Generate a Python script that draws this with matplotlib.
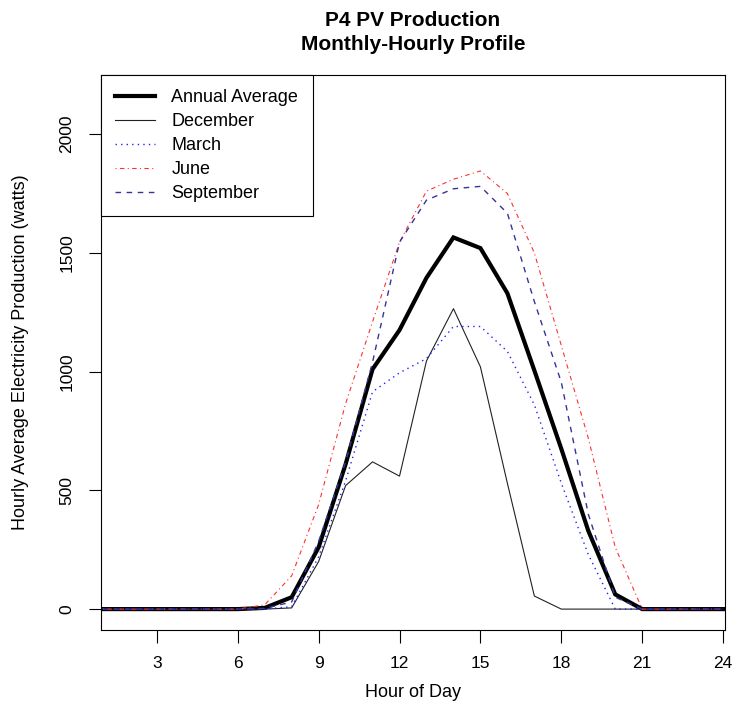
import matplotlib
matplotlib.use("Agg")
import matplotlib.pyplot as plt

plt.rcParams['font.family'] = ['Liberation Sans', 'DejaVu Sans']

hours = list(range(1, 25))
annual = [0, 0, 0, 0, 0, 0, 5, 50, 260, 610, 1010, 1175, 1395, 1565, 1520, 1330, 1005, 675, 330, 62, 0, 0, 0, 0]
december = [0, 0, 0, 0, 0, 0, 0, 5, 200, 520, 620, 560, 1045, 1265, 1020, 530, 55, 0, 0, 0, 0, 0, 0, 0]
march = [0, 0, 0, 0, 0, 0, 0, 10, 220, 540, 915, 995, 1055, 1190, 1190, 1085, 860, 530, 230, 0, 0, 0, 0, 0]
june = [0, 0, 0, 0, 0, 0, 18, 140, 440, 865, 1210, 1545, 1760, 1810, 1845, 1750, 1500, 1110, 720, 260, 0, 0, 0, 0]
september = [0, 0, 0, 0, 0, 0, 3, 30, 285, 620, 1040, 1545, 1722, 1770, 1780, 1667, 1295, 955, 400, 50, 0, 0, 0, 0]

xticks = [3, 6, 9, 12, 15, 18, 21, 24]
yticks = [0, 500, 1000, 1500, 2000]

fig = plt.figure(figsize=(7.38, 7.27), dpi=100)
ax = fig.add_axes([101/738, 1-630/727, (725-101)/738, (630-75)/727])

ax.plot(hours, annual, color='black', lw=3.0, label='Annual Average', solid_joinstyle='miter')
ax.plot(hours, december, color='#222222', lw=0.8, label='December')
ax.plot(hours, march, color='#2020ff', lw=1.0, dashes=(1, 3), label='March')
ax.plot(hours, june, color='#ff3030', lw=0.8, dashes=(1, 3, 4, 3), label='June')
ax.plot(hours, september, color='#34349a', lw=1.0, dashes=(4, 4), label='September')

ax.set_xlim(0.93, 24.07)
ax.set_ylim(-88, 2249)
ax.set_xticks(xticks)
ax.set_yticks(yticks)
ax.set_yticklabels([str(v) for v in yticks], rotation=90, va='center')
ax.tick_params(axis='both', direction='out', length=9, width=0.8, labelsize=12.5, colors='black')
ax.tick_params(axis='x', pad=10)
ax.tick_params(axis='y', pad=10)
for s in ax.spines.values():
    s.set_linewidth(0.8)
    s.set_color('black')

ax.set_xlabel('Hour of Day', fontsize=13, labelpad=9)
ax.set_ylabel('Hourly Average Electricity Production (watts)', fontsize=13, labelpad=22)

fig.text(413/738, 1-20/727, 'P4 PV Production', ha='center', va='center', fontsize=15, fontweight='bold')
fig.text(413/738, 1-45/727, 'Monthly-Hourly Profile', ha='center', va='center', fontsize=15, fontweight='bold')

leg = ax.legend(loc='upper left', borderaxespad=0, fancybox=False, frameon=True,
                fontsize=13, handlelength=2.2, handletextpad=0.9, labelspacing=0.38,
                borderpad=0.8)
leg.get_frame().set_edgecolor('black')
leg.get_frame().set_linewidth(0.8)
leg.get_frame().set_alpha(1)

fig.savefig('out.png', dpi=100, facecolor='white')
